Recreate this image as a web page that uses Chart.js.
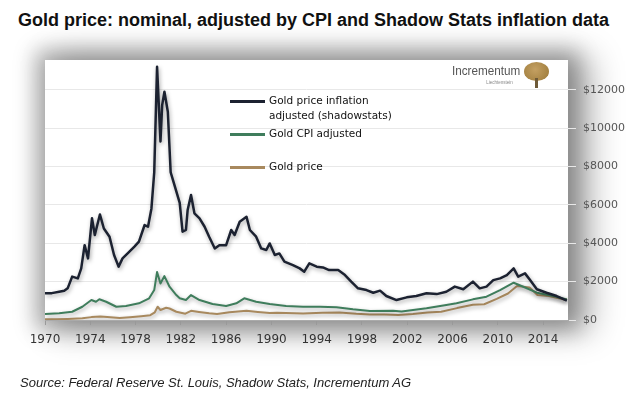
<!DOCTYPE html>
<html>
<head>
<meta charset="utf-8">
<script src="https://cdn.jsdelivr.net/npm/chart.js@4.4.1/dist/chart.umd.min.js"></script>
<style>
  body { margin: 0; background: #fff; }
  #wrap { position: relative; width: 640px; height: 398px; overflow: hidden; font-family: "Liberation Sans", Arial, sans-serif; }
  #panel {
    position: absolute; left: 45px; top: 60px; width: 523px; height: 260px; background: #fff;
    box-shadow: 0 0 20px 10px rgba(0,0,0,0.28), 16px 4px 30px 8px rgba(0,0,0,0.28);
  }
  #chart { position: absolute; left: 0; top: 0; }
  #title { position: absolute; left: 18px; top: 10px; font-weight: bold; font-size: 18px; color: #111; white-space: nowrap; }
  #source { position: absolute; left: 20px; top: 375px; font-style: italic; font-size: 13px; color: #222; white-space: nowrap; }
  .sw { position: absolute; left: 230px; width: 35px; height: 2.5px; }
  .lt { position: absolute; left: 269px; font-family: "DejaVu Sans", sans-serif; font-size: 10.5px; line-height: 15px; color: #111; white-space: nowrap; }
  #logo { position: absolute; left: 452px; top: 63px; font-size: 13px; color: #555; transform: scaleX(0.9); transform-origin: left top; }
  #logo small { position: absolute; left: 38px; top: 16px; font-size: 5px; color: #888; }
  #tree { position: absolute; left: 524px; top: 62px; width: 25px; height: 19px; border-radius: 50%;
    background: radial-gradient(circle at 45% 40%, #c4a062, #9a7838); }
  #trunk { position: absolute; left: 535px; top: 78px; width: 3px; height: 10px; background: #6e5a38; }
</style>
</head>
<body>
<div id="wrap">
  <div id="title">Gold price: nominal, adjusted by CPI and Shadow Stats inflation data</div>
  <div id="panel"></div>
  <canvas id="chart" width="640" height="398"></canvas>
  <div id="logo">Incrementum<small>Liechtenstein</small></div>
  <div id="tree"></div><div id="trunk"></div>
  <div class="sw" style="top:100px;background:#1c2231"></div>
  <div class="lt" style="top:93px">Gold price inflation<br>adjusted (shadowstats)</div>
  <div class="sw" style="top:133px;background:#3f7d5c"></div>
  <div class="lt" style="top:126px">Gold CPI adjusted</div>
  <div class="sw" style="top:166px;background:#a8895e"></div>
  <div class="lt" style="top:159px">Gold price</div>
  <div id="source">Source: Federal Reserve St. Louis, Shadow Stats, Incrementum AG</div>
</div>
<script>
// Gold price adjusted by shadowstats inflation (USD)
const shadowYears = [1970, 1970.6, 1971.25, 1971.7, 1972, 1972.4, 1972.9, 1973.2, 1973.5, 1973.8,
  1974.15, 1974.4, 1974.85, 1975.2, 1975.7, 1976.1, 1976.5, 1976.85, 1977.3, 1977.9,
  1978.3, 1978.8, 1979.1, 1979.4, 1979.65, 1979.9, 1980.2, 1980.35, 1980.55, 1980.85,
  1981.1, 1981.3, 1981.6, 1981.9, 1982.15, 1982.45, 1982.6, 1982.9, 1983.2, 1983.65,
  1984.1, 1984.5, 1985, 1985.4, 1986, 1986.45, 1986.75, 1987.2, 1987.8, 1988.1,
  1988.65, 1989.1, 1989.55, 1989.85, 1990.3, 1990.7, 1991.15, 1991.9, 1992.5, 1992.9,
  1993.35, 1994, 1994.55, 1995.1, 1995.9, 1996.5, 1997.05, 1997.65, 1998.4, 1999,
  1999.6, 2000.15, 2001.05, 2001.95, 2002.8, 2003.7, 2004.6, 2005.45, 2006.2, 2006.95,
  2007.8, 2008.4, 2009, 2009.6, 2010.2, 2010.8, 2011.4, 2011.8, 2012.4, 2012.85,
  2013.45, 2014.3, 2015.2, 2016.1];
const shadowValues = [1390, 1400, 1470, 1520, 1650, 2260, 2170, 2690, 3900, 3210,
  5300, 4430, 5500, 4770, 4340, 3390, 2780, 3210, 3470, 3820,
  4080, 4950, 4860, 5800, 7700, 13200, 9300, 11200, 11900, 10850,
  7700, 7300, 6700, 6100, 4600, 4690, 5730, 6510, 5560, 5300,
  4860, 4340, 3730, 3900, 3900, 4690, 4430, 5120, 5380, 4690,
  4340, 3730, 3650, 3990, 3390, 3470, 3040, 2860, 2690, 2520,
  2950, 2780, 2740, 2600, 2600, 2340, 2000, 1650, 1560, 1420,
  1530, 1250, 1040, 1180, 1250, 1390, 1350, 1470, 1740, 1600,
  2000, 1650, 1740, 2080, 2170, 2340, 2690, 2260, 2430, 2080,
  1600, 1420, 1250, 1010];

// Gold price adjusted by CPI (USD)
const cpiYears = [1970, 1971.25, 1972.4, 1973.3, 1974.1, 1974.5, 1974.8, 1975.4, 1976.3, 1977.15,
  1978.3, 1979.2, 1979.65, 1979.9, 1980.2, 1980.55, 1981, 1981.6, 1981.9, 1982.45,
  1982.9, 1983.65, 1984.8, 1986, 1986.9, 1987.6, 1988.65, 1989.85, 1991.3, 1992.8,
  1994.3, 1995.75, 1997.2, 1998.7, 2000.75, 2001.5, 2003.7, 2005.45, 2006.35, 2007.8,
  2009, 2010.2, 2011.4, 2012.25, 2013.45, 2014.9, 2016.1];
const cpiValues = [310, 350, 430, 690, 1040, 950, 1080, 950, 690, 730,
  870, 1130, 1560, 2500, 1900, 2290, 1735, 1300, 1130, 1040,
  1300, 1040, 830, 730, 870, 1130, 955, 830, 730, 694,
  694, 660, 555, 470, 486, 440, 607, 781, 868, 1076,
  1215, 1562, 1943, 1735, 1423, 1250, 1076];

// Nominal gold price (USD)
const nominalYears = [1970, 1971, 1972, 1973.3, 1974.1, 1974.9, 1975.5, 1976.6, 1977.5, 1978.5,
  1979.3, 1979.7, 1979.95, 1980.2, 1980.7, 1981, 1981.6, 1982.4, 1982.9, 1983.6,
  1984.5, 1985.2, 1986.3, 1987.8, 1988.8, 1989.85, 1990.5, 1992.8, 1994.5, 1996,
  1997.5, 1998.7, 2000, 2001.2, 2002.5, 2003.8, 2005, 2006.4, 2007.8, 2008.8,
  2009.9, 2010.9, 2011.7, 2012.8, 2013.5, 2014.5, 2015.9, 2016.1];
const nominalValues = [35, 40, 58, 90, 150, 180, 160, 110, 148, 200,
  250, 400, 690, 520, 640, 600, 430, 330, 480, 420,
  347, 310, 400, 480, 420, 360, 380, 340, 384, 390,
  325, 290, 285, 265, 315, 390, 430, 620, 790, 820,
  1100, 1380, 1770, 1700, 1300, 1250, 1070, 1100];

const xTickYears = [1970, 1974, 1978, 1982, 1986, 1990, 1994, 1998, 2002, 2006, 2010, 2014];
const yTickValues = [0, 2000, 4000, 6000, 8000, 10000, 12000];

function toPoints(xs, ys) {
  return xs.map((x, i) => ({ x: x, y: ys[i] }));
}

// soft drop shadow under each line, like the original
const lineShadow = {
  id: 'lineShadow',
  beforeDatasetDraw(chart) {
    const c = chart.ctx;
    c.save();
    c.shadowColor = 'rgba(0,0,0,0.35)';
    c.shadowBlur = 4;
    c.shadowOffsetX = 1;
    c.shadowOffsetY = 2;
  },
  afterDatasetDraw(chart) {
    chart.ctx.restore();
  }
};

new Chart(document.getElementById('chart'), {
  type: 'line',
  data: {
    datasets: [
      { label: 'Gold price inflation adjusted (shadowstats)', data: toPoints(shadowYears, shadowValues),
        borderColor: '#1c2231', borderWidth: 2.5 },
      { label: 'Gold CPI adjusted', data: toPoints(cpiYears, cpiValues),
        borderColor: '#3f7d5c', borderWidth: 2 },
      { label: 'Gold price', data: toPoints(nominalYears, nominalValues),
        borderColor: '#a8895e', borderWidth: 2 }
    ]
  },
  options: {
    responsive: false,
    animation: false,
    devicePixelRatio: 1,
    layout: { padding: { left: 45, top: 60, right: 0, bottom: 38 } },
    elements: { point: { radius: 0 }, line: { tension: 0, borderJoinStyle: 'round' } },
    plugins: { legend: { display: false }, tooltip: { enabled: false } },
    scales: {
      x: {
        type: 'linear', min: 1970, max: 2016.2,
        afterBuildTicks: s => { s.ticks = xTickYears.map(v => ({ value: v })); },
        afterFit: s => { s.height = 40; },
        grid: { drawOnChartArea: false, tickLength: 5, color: '#999' },
        border: { color: '#aaa' },
        ticks: { callback: v => String(v), color: '#333', padding: 8, maxRotation: 0,
          font: { family: 'DejaVu Sans', size: 12 } }
      },
      y: {
        position: 'right', min: 0, max: 13550,
        afterBuildTicks: s => { s.ticks = yTickValues.map(v => ({ value: v })); },
        afterFit: s => { s.width = 72; },
        grid: { color: '#e8e8e8', tickLength: 8 },
        border: { display: false },
        ticks: { callback: v => '$' + v, color: '#555', padding: 7,
          font: { family: 'DejaVu Sans', size: 11 } }
      }
    }
  },
  plugins: [lineShadow]
});
</script>
</body>
</html>
